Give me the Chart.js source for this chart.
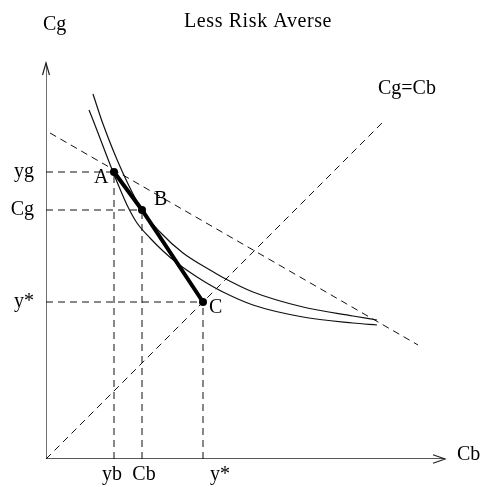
<!DOCTYPE html>
<html>
<head>
<meta charset="utf-8">
<title>Less Risk Averse</title>
<script src="https://cdn.jsdelivr.net/npm/chart.js@4.4.1/dist/chart.umd.min.js"></script>
<style>
  html, body { margin: 0; padding: 0; background: #fff; }
  #wrap { width: 483px; height: 487px; }
</style>
</head>
<body>
<div id="wrap"><canvas id="riskChart"></canvas></div>
<script>
// ------------------------------------------------------------
// Data (units: Cb on x, Cg on y, both 0..400)
// ------------------------------------------------------------
const OUTER_CB = [47, 57, 76, 96, 114, 137, 164, 176, 207, 257, 307, 331];
const OUTER_CG = [365, 335, 288, 249, 227, 206, 189, 182, 167, 152, 143, 139];

const INNER_CB = [43, 47, 67, 74, 82, 91, 104, 117, 131, 145, 159, 177, 207, 257, 307, 331];
const INNER_CG = [349, 339, 287, 270, 252, 236, 221, 208, 196, 186, 177, 167, 154, 142, 136, 134];

const BUDGET_CB = [4, 372];
const BUDGET_CG = [326, 114];

const CERTAINTY_CB = [0, 339];
const CERTAINTY_CG = [0, 339];

const POINT_NAMES = ["A", "B", "C"];
const POINT_CB = [68, 96, 157];
const POINT_CG = [287, 249, 157];

const X_TICKS = [68, 96, 157];
const X_TICK_LABELS = ["yb", "Cb", "y*"];
const Y_TICKS = [287, 249, 157];
const Y_TICK_LABELS = ["yg", "Cg", "y*"];

const AXIS_END_CB = 399;
const AXIS_END_CG = 396;

const TITLE = "Less Risk Averse";
const X_AXIS_TITLE = "Cb";
const Y_AXIS_TITLE = "Cg";
const CERTAINTY_LABEL = "Cg=Cb";

// ------------------------------------------------------------
const FONT = '"Liberation Serif", "DejaVu Serif", serif';
const INK = "#111";
// where the x tick labels sit relative to their guide lines (px)
const X_LABEL_SHIFT = [-2, 2, 17];

const toPoints = (xs, ys) => xs.map((x, i) => ({ x, y: ys[i] }));

const dashed = (data) => ({
  data,
  borderColor: INK,
  borderWidth: 1,
  borderDash: [7, 5],
  pointRadius: 0,
});

const guideSets = POINT_CB.flatMap((cb, i) => [
  dashed([{ x: 0, y: POINT_CG[i] }, { x: cb, y: POINT_CG[i] }]),
  dashed([{ x: cb, y: 0 }, { x: cb, y: POINT_CG[i] }]),
]);

const curve = (data) => ({
  data,
  borderColor: INK,
  borderWidth: 1.2,
  pointRadius: 0,
  cubicInterpolationMode: "monotone",
});

const datasets = [
  {
    data: toPoints(POINT_CB, POINT_CG),
    borderColor: "#000",
    borderWidth: 4,
    pointRadius: 4,
    pointBackgroundColor: "#000",
    pointBorderWidth: 0,
  },
  curve(toPoints(OUTER_CB, OUTER_CG)),
  curve(toPoints(INNER_CB, INNER_CG)),
  dashed(toPoints(BUDGET_CB, BUDGET_CG)),
  dashed(toPoints(CERTAINTY_CB, CERTAINTY_CG)),
  ...guideSets,
  {
    data: [{ x: 0, y: AXIS_END_CG }, { x: 0, y: 0 }, { x: AXIS_END_CB, y: 0 }],
    borderColor: "#222",
    borderWidth: 1.3,
    pointRadius: 0,
  },
];

// arrowheads + free text
const annotations = {
  id: "annotations",
  afterDatasetsDraw(chart) {
    const { ctx, scales } = chart;
    const px = (v) => scales.x.getPixelForValue(v);
    const py = (v) => scales.y.getPixelForValue(v);

    ctx.save();
    ctx.strokeStyle = "#222";
    ctx.lineWidth = 1.2;
    ctx.beginPath();
    const yTipX = px(0), yTipY = py(AXIS_END_CG);
    ctx.moveTo(yTipX - 3.5, yTipY + 12);
    ctx.lineTo(yTipX, yTipY);
    ctx.lineTo(yTipX + 3.5, yTipY + 12);
    const xTipX = px(AXIS_END_CB), xTipY = py(0);
    ctx.moveTo(xTipX - 12, xTipY - 4.3);
    ctx.lineTo(xTipX, xTipY);
    ctx.lineTo(xTipX - 12, xTipY + 4.3);
    ctx.stroke();

    ctx.fillStyle = "#000";
    ctx.font = `20px ${FONT}`;
    ctx.textBaseline = "alphabetic";
    ctx.textAlign = "left";
    ctx.fillText(Y_AXIS_TITLE, yTipX - 3, 30);
    ctx.fillText(X_AXIS_TITLE, xTipX + 12, xTipY + 1);
    ctx.fillText(CERTAINTY_LABEL, px(CERTAINTY_CB[1]) - 7, py(CERTAINTY_CG[1]) - 26);

    const offsets = [[-20, 11], [12, -5], [6, 11]];
    POINT_NAMES.forEach((name, i) => {
      ctx.fillText(name, px(POINT_CB[i]) + offsets[i][0], py(POINT_CG[i]) + offsets[i][1]);
    });

    ctx.letterSpacing = "0.6px";
    ctx.fillText(TITLE, 184, 27);
    ctx.restore();
  },
};

const tickFont = { family: FONT, size: 20 };

new Chart(document.getElementById("riskChart").getContext("2d"), {
  type: "scatter",
  data: { datasets: datasets.map((d) => ({ showLine: true, fill: false, ...d })) },
  options: {
    responsive: true,
    maintainAspectRatio: false,
    animation: false,
    layout: { padding: { top: 59, right: 37, left: 0, bottom: 0 } },
    plugins: { legend: { display: false }, tooltip: { enabled: false } },
    scales: {
      x: {
        type: "linear",
        min: 0,
        max: 400,
        grid: { display: false },
        border: { display: false },
        ticks: {
          font: tickFont,
          color: "#000",
          padding: -4,
          autoSkip: false,
          maxRotation: 0,
          callback: (v, i) => X_TICK_LABELS[i],
        },
        afterBuildTicks: (s) => {
          s.ticks = X_TICKS.map((value, i) => ({ value: value + X_LABEL_SHIFT[i] }));
        },
        afterFit: (s) => { s.height = 28; },
      },
      y: {
        type: "linear",
        min: 0,
        max: 400,
        grid: { display: false },
        border: { display: false },
        ticks: {
          font: tickFont,
          color: "#000",
          padding: 4,
          autoSkip: false,
          callback: (v, i) => Y_TICK_LABELS[i],
        },
        afterBuildTicks: (s) => { s.ticks = Y_TICKS.map((value) => ({ value })); },
        afterFit: (s) => { s.width = 46; },
      },
    },
  },
  plugins: [annotations],
});
</script>
</body>
</html>
